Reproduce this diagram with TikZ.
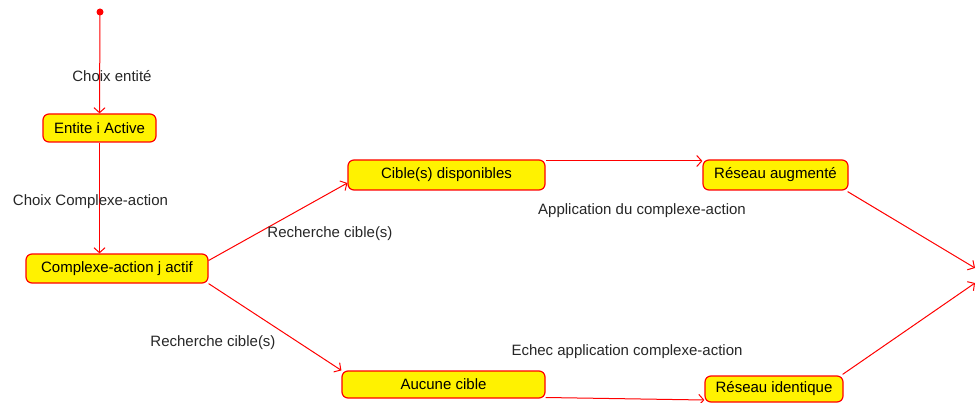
\documentclass[tikz,border=0pt]{standalone}
\usepackage{fontspec}
\setmainfont{Liberation Sans}
\usetikzlibrary{arrows.meta}
\begin{document}
\begin{tikzpicture}[x=1pt,y=-1pt,
  state/.style={draw=red, fill=yellow, rounded corners=6pt, inner sep=0pt, line width=1.2pt,
    font=\fontsize{15}{18}\selectfont, text=black},
  lbl/.style={font=\fontsize{15}{18}\selectfont, text=black!85, inner sep=0pt},
  tr/.style={draw=red, line width=1pt, -{Straight Barb[length=5pt,width=11pt]}}]
\useasboundingbox (0,0) rectangle (976,403);
\fill[red] (100,12) circle (3.5);
\coordinate (start) at (100,12);
\node[state, minimum width=113pt, minimum height=28pt] (ent) at (99.5,128) {Entite i Active};
\node[state, minimum width=182pt, minimum height=29pt] (comp) at (117,268.5) {Complexe-action j actif};
\node[state, minimum width=197pt, minimum height=30pt] (cib) at (446.5,175) {Cible(s) disponibles};
\node[state, minimum width=145pt, minimum height=30pt] (ra) at (775.5,175) {Réseau augmenté};
\node[state, minimum width=203pt, minimum height=27pt] (auc) at (443.5,384.5) {Aucune cible};
\node[state, minimum width=138pt, minimum height=26pt] (ri) at (774,389) {Réseau identique};
\coordinate (e1) at (975,268);
\coordinate (e2) at (975,283);

\draw[tr] (start) -- (ent.north);
\draw[tr] (ent.south) -- (ent.south |- comp.north);
\draw[tr] ([yshift=8pt]comp.east) -- ([yshift=-8pt]cib.west);
\draw[tr] (comp.south east) -- (auc.north west);
\draw[tr] ([yshift=14pt]cib.east) -- ([yshift=14pt]ra.west);
\draw[tr] ([yshift=-13pt]auc.east) -- ([yshift=-11pt]ri.west);
\draw[tr] ([xshift=-1pt,yshift=-1pt]ra.south east) -- (e1);
\draw[tr] ([xshift=-1pt,yshift=1pt]ri.north east) -- (e2);

\node[lbl] (l1) at (112,76) {Choix entité};
\node[lbl] (l2) at (90.5,202) {Choix Complexe-action};
\node[lbl] (l3) at (330,234) {Recherche cible(s)};
\node[lbl] (l4) at (213,343) {Recherche cible(s)};
\node[lbl] (l5) at (642,211) {Application du complexe-action};
\node[lbl] (l6) at (627,352) {Echec application complexe-action};
\end{tikzpicture}
\end{document}
